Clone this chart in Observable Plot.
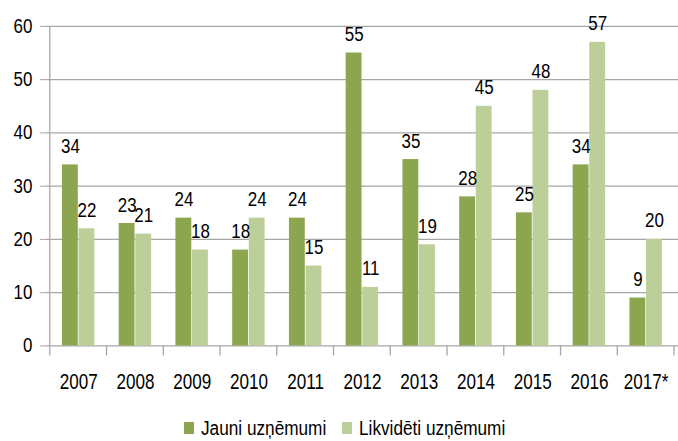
<!DOCTYPE html>
<html>
<head>
<meta charset="utf-8">
<script src="https://cdn.jsdelivr.net/npm/d3@7"></script>
<script src="https://cdn.jsdelivr.net/npm/@observablehq/plot@0.6"></script>
<style>
  html, body { margin: 0; padding: 0; background: #fff; overflow: hidden; }
  body { width: 678px; height: 441px; position: relative;
    font-family: "Liberation Sans", Arial, sans-serif; }
  #chart svg { display: block; }
  #legend { position: absolute; top: 419px; left: 0; width: 678px; height: 22px; font-size: 20px; color: #000; }
  .sw { position: absolute; top: 3px; width: 10px; height: 12px; }
  .lt { position: absolute; top: -2px; white-space: nowrap; transform: scaleX(0.86); transform-origin: left center; line-height: 22px; }
</style>
</head>
<body>
<div id="chart"></div>
<div id="legend"></div>
<script>
const years = ["2007", "2008", "2009", "2010", "2011", "2012", "2013", "2014", "2015", "2016", "2017*"];
const jauni = [34, 23, 24, 18, 24, 55, 35, 28, 25, 34, 9];
const likvideti = [22, 21, 18, 24, 15, 11, 19, 45, 48, 57, 20];
const seriesNames = ["Jauni uzņēmumi", "Likvidēti uzņēmumi"];
const yTicks = [0, 10, 20, 30, 40, 50, 60];
const colors = ["#8ca650", "#bccf99"];

const dataJ = years.map((y, i) => ({year: y, series: seriesNames[0], value: jauni[i]}));
const dataL = years.map((y, i) => ({year: y, series: seriesNames[1], value: likvideti[i]}));

const gray = "#a6a6a6";
const font = "'Liberation Sans', Arial, sans-serif";

const chart = Plot.plot({
  width: 681,
  height: 400,
  marginLeft: 46,
  marginRight: 0,
  marginTop: 26,
  marginBottom: 53,
  style: {fontFamily: font, fontSize: "20px", color: "#000", background: "#fff", overflow: "visible"},
  x: {domain: years, padding: 0, label: null},
  y: {domain: [0, 60], label: null},
  marks: [
    Plot.gridY(yTicks, {stroke: gray, strokeOpacity: 1, strokeWidth: 1.3}),
    Plot.axisY(yTicks, {tickSize: 6, tickPadding: 8, stroke: gray, fontSize: 20, fill: "#000"}),
    Plot.axisX({tickSize: 0, tickPadding: 28, fontSize: 22, fill: "#000"}),
    Plot.barY(dataJ, {x: "year", y: "value", fill: colors[0], insetLeft: 12.2, insetRight: 28.87}),
    Plot.barY(dataL, {x: "year", y: "value", fill: colors[1], insetLeft: 28.87, insetRight: 12.2}),
    Plot.text(dataJ, {x: "year", y: "value", text: "value", dx: -8.3, dy: -12, lineAnchor: "bottom", fontSize: 20, fill: "#000"}),
    Plot.text(dataL, {x: "year", y: "value", text: "value", dx: 8.3, dy: -12, lineAnchor: "bottom", fontSize: 20, fill: "#000"})
  ]
});

document.getElementById("chart").appendChild(chart);

// Narrow the glyphs (the reference uses a condensed face)
chart.querySelectorAll("text").forEach(t => {
  const len = t.getComputedTextLength();
  const grp = t.closest("g[aria-label]");
  const label = grp ? grp.getAttribute("aria-label") : "";
  const k = label.startsWith("x-axis") ? 0.78 : 0.85;
  if (len > 0) {
    t.setAttribute("textLength", (len * k).toFixed(2));
    t.setAttribute("lengthAdjust", "spacingAndGlyphs");
  }
});

// Category boundary ticks and vertical axis line, from the plot's own scales
const xs = Plot.scale({x: chart.scale("x")});
const ys = Plot.scale({y: chart.scale("y")});
const bw = chart.scale("x").bandwidth;
const bounds = years.map(y => xs.apply(y)).concat([xs.apply(years[years.length - 1]) + bw]);
const y0 = ys.apply(0), yTop = ys.apply(60);
const g = d3.select(chart).append("g").attr("stroke", gray).attr("stroke-width", 1.3);
g.selectAll("line.t").data(bounds).join("line")
  .attr("x1", d => d).attr("x2", d => d).attr("y1", y0).attr("y2", y0 + 10);
g.append("line").attr("x1", bounds[0]).attr("x2", bounds[0]).attr("y1", yTop).attr("y2", y0);

// Legend
const legend = d3.select("#legend");
const swLeft = [184, 342], txLeft = [201, 359];
seriesNames.forEach((name, i) => {
  legend.append("div").attr("class", "sw").style("left", swLeft[i] + "px").style("background", colors[i]);
  legend.append("div").attr("class", "lt").style("left", txLeft[i] + "px").text(name);
});
</script>
</body>
</html>
